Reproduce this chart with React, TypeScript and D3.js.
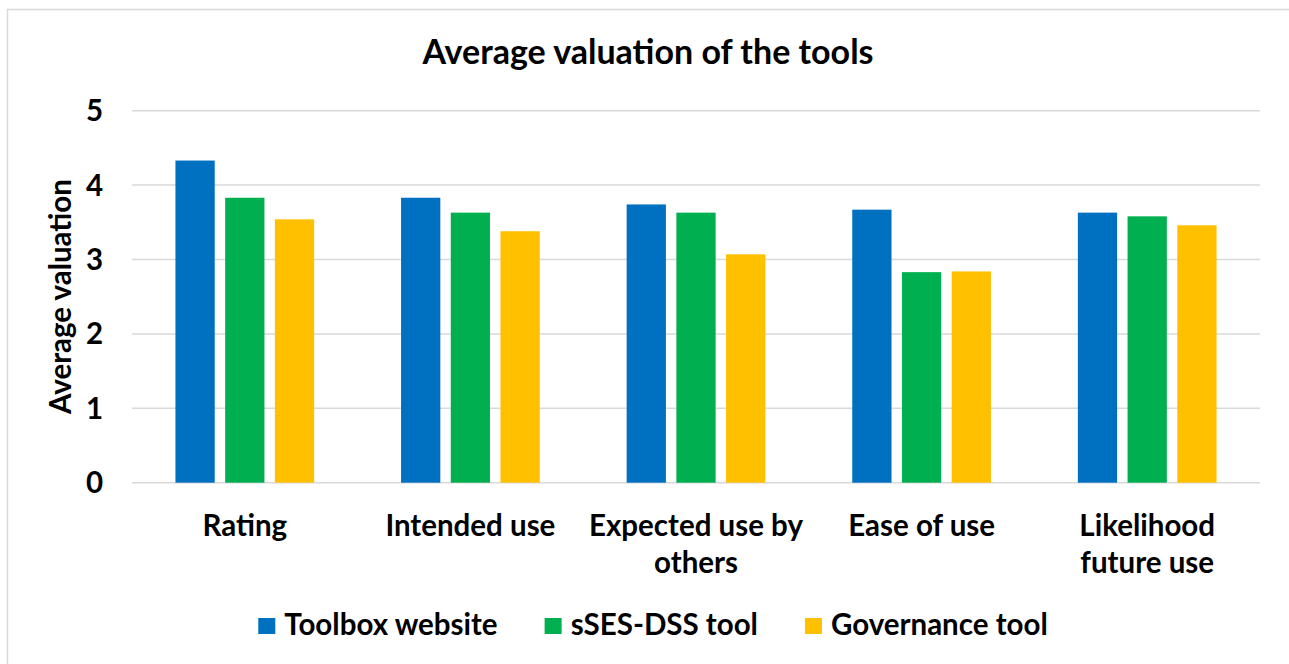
import * as d3 from 'd3';
import { useRef, useEffect } from 'react';

const categories = ['Rating', 'Intended use', 'Expected use by others', 'Ease of use', 'Likelihood future use'];
// how Excel wrapped the longer labels
const categoryLines = [['Rating'], ['Intended use'], ['Expected use by', 'others'], ['Ease of use'], ['Likelihood', 'future use']];

const seriesNames = ['Toolbox website', 'sSES-DSS tool', 'Governance tool'];
const toolboxValues = [4.33, 3.83, 3.74, 3.67, 3.63];
const ssesValues = [3.83, 3.63, 3.63, 2.83, 3.58];
const governanceValues = [3.54, 3.38, 3.07, 2.84, 3.46];
const seriesColors = ['#0070C0', '#00B050', '#FFC000'];

const yTicks = [0, 1, 2, 3, 4, 5];

const W = 1289;
const H = 664;
const FONT = 'Lato, "Open Sans", sans-serif';
const LABEL_SIZE = 29.5;

const App = () => {
  const svgRef = useRef(null);

  useEffect(() => {
    drawChart();
  }, []);

  const drawChart = () => {
    const svg = d3.select(svgRef.current);
    svg.selectAll('*').remove();

    const values = [toolboxValues, ssesValues, governanceValues];

    // chart frame
    svg
      .append('rect')
      .attr('x', 7.5)
      .attr('y', 9.5)
      .attr('width', W + 20)
      .attr('height', H + 20)
      .attr('fill', '#fff')
      .attr('stroke', '#D9D9D9')
      .attr('stroke-width', 1.5);

    const x0 = d3.scaleBand().domain(categories).range([132, 1260]).padding(0);
    const x1 = d3
      .scaleBand()
      .domain(seriesNames)
      .range([0, x0.bandwidth()])
      .paddingInner(0.21)
      .paddingOuter(0.874);
    const y = d3.scaleLinear().domain([0, 5]).range([482.7, 110.7]);

    // gridlines
    svg
      .append('g')
      .selectAll('line')
      .data(yTicks)
      .join('line')
      .attr('x1', 132)
      .attr('x2', 1260)
      .attr('y1', (d) => y(d))
      .attr('y2', (d) => y(d))
      .attr('stroke', '#D9D9D9')
      .attr('stroke-width', 1.5);

    // y tick labels
    svg
      .append('g')
      .selectAll('text')
      .data(yTicks)
      .join('text')
      .attr('x', 103)
      .attr('y', (d) => y(d) + 10.5)
      .attr('text-anchor', 'end')
      .attr('font-family', FONT)
      .attr('font-weight', 700)
      .attr('font-size', LABEL_SIZE)
      .attr('fill', '#000')
      .text((d) => d);

    // y axis title
    svg
      .append('text')
      .attr('transform', 'translate(71,296.5) rotate(-90)')
      .attr('text-anchor', 'middle')
      .attr('font-family', FONT)
      .attr('font-weight', 700)
      .attr('font-size', LABEL_SIZE)
      .text('Average valuation');

    // bars
    seriesNames.forEach((name, si) => {
      svg
        .append('g')
        .selectAll('rect')
        .data(categories)
        .join('rect')
        .attr('x', (c) => x0(c) + x1(name))
        .attr('width', x1.bandwidth())
        .attr('y', (c, i) => y(values[si][i]))
        .attr('height', (c, i) => y(0) - y(values[si][i]))
        .attr('fill', seriesColors[si]);
    });

    // category labels
    const cat = svg
      .append('g')
      .selectAll('text')
      .data(categories)
      .join('text')
      .attr('text-anchor', 'middle')
      .attr('font-family', FONT)
      .attr('font-weight', 700)
      .attr('font-size', LABEL_SIZE)
      .attr('fill', '#000');
    cat
      .selectAll('tspan')
      .data((c, i) => categoryLines[i].map((l) => ({ l, c })))
      .join('tspan')
      .attr('x', (d) => x0(d.c) + x0.bandwidth() / 2)
      .attr('y', (d, j) => 535.5 + j * 37)
      .text((d) => d.l);

    // title
    svg
      .append('text')
      .attr('x', 648)
      .attr('y', 63.5)
      .attr('text-anchor', 'middle')
      .attr('font-family', FONT)
      .attr('font-weight', 700)
      .attr('font-size', 34)
      .text('Average valuation of the tools');

    // legend, laid out from measured text widths and centred
    const legend = svg.append('g');
    const items = seriesNames.map((name, i) => {
      const g = legend.append('g');
      g.append('rect').attr('x', 0).attr('y', -17).attr('width', 17).attr('height', 16).attr('fill', seriesColors[i]);
      const t = g
        .append('text')
        .attr('x', 26)
        .attr('y', 0)
        .attr('font-family', FONT)
        .attr('font-weight', 700)
        .attr('font-size', LABEL_SIZE)
        .text(name);
      return { g, w: 26 + t.node().getComputedTextLength() };
    });
    const gap = 47;
    const total = d3.sum(items, (d) => d.w) + gap * (items.length - 1);
    let cx = 653 - total / 2;
    items.forEach((it) => {
      it.g.attr('transform', `translate(${cx},635)`);
      cx += it.w + gap;
    });
  };

  return (
    <svg
      ref={svgRef}
      width={W}
      height={H}
      style={{ position: 'absolute', left: 0, top: 0, background: '#fff' }}
    />
  );
};

export default App;
